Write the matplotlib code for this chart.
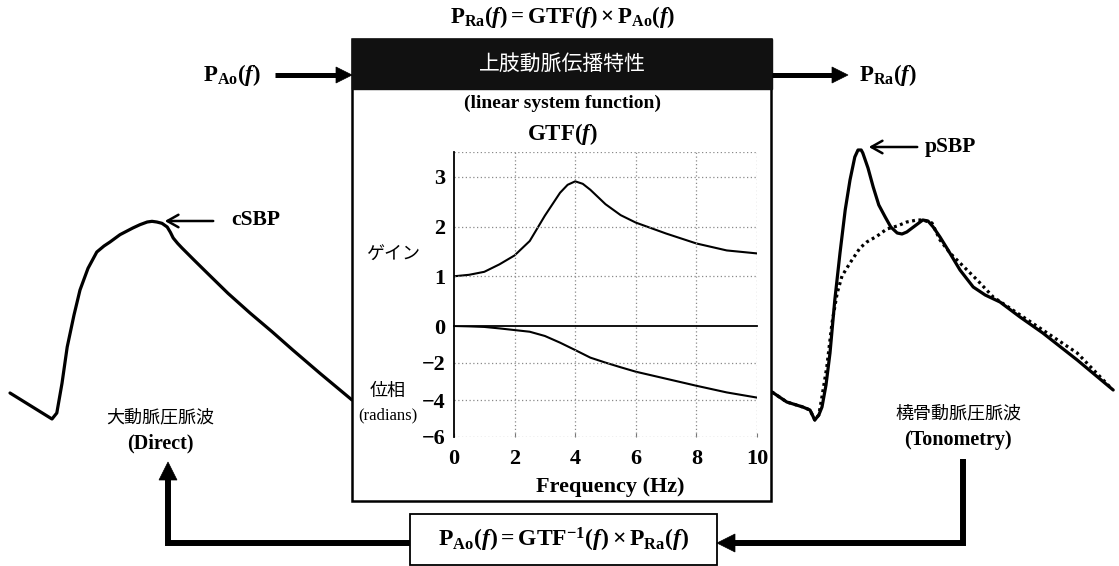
import matplotlib
matplotlib.use("Agg")
import matplotlib.pyplot as plt
from matplotlib.patches import Rectangle, Polygon
from matplotlib.lines import Line2D

# ---------------- data ----------------
freq = [0, 0.5, 1, 1.5, 2, 2.5, 3, 3.25, 3.5, 3.75, 4, 4.25, 4.5, 5, 5.5, 6, 7, 8, 9, 10]
gain = [1.0, 1.03, 1.09, 1.24, 1.42, 1.71, 2.22, 2.45, 2.68, 2.84, 2.91, 2.86, 2.74,
        2.45, 2.23, 2.08, 1.86, 1.66, 1.52, 1.46]
phase_f = [0, 0.5, 1, 1.5, 2, 2.5, 3, 3.5, 4, 4.5, 5, 5.5, 6, 7, 8, 9, 10]
phase = [0, -0.02, -0.05, -0.13, -0.22, -0.31, -0.54, -0.9, -1.3, -1.71, -1.98,
         -2.23, -2.47, -2.85, -3.23, -3.59, -3.87]
gain_ticks = [1, 2, 3]
phase_ticks = [-6, -4, -2, 0]
phase_ticklabels = ["−6", "−4", "−2", "0"]
freq_ticks = [0, 2, 4, 6, 8, 10]

# aortic pressure wave (time ms, pressure mmHg)
ao_t = [25, 130, 142, 155, 168, 185, 200, 220, 242, 260, 275, 300, 332, 350, 368,
        380, 392, 405, 418, 426, 433, 444, 455, 485, 518, 570, 625, 680, 732, 800, 880]
ao_p = [71.1, 63.3, 65.1, 74.0, 84.9, 94.5, 102.0, 108.5, 113.4, 115.2, 116.4, 118.6,
        120.6, 121.6, 122.4, 122.6, 122.4, 122.0, 120.9, 119.3, 117.6, 116.0, 114.6,
        111.0, 107.1, 101.0, 95.1, 89.5, 84.0, 77.0, 69.0]

# radial pressure wave, measured (solid) and reconstructed (dotted)
ra_t = [5, 42, 82, 100, 112, 122, 130, 140, 150, 162, 175, 188, 200, 212, 220, 228, 232,
        245, 258, 272, 288, 302, 318, 330, 342, 362, 382, 395, 408, 425, 442, 475, 508,
        538, 575, 625, 682, 768, 858]
ra_p = [71.4, 68.4, 66.9, 66.0, 63.0, 64.5, 66.9, 73.5, 83.1, 99.0, 113.1, 126.0, 135.0,
        141.9, 144.0, 144.0, 143.1, 138.6, 132.9, 127.5, 123.9, 120.9, 119.1, 118.8, 119.4,
        121.2, 123.0, 122.7, 120.9, 117.9, 114.6, 108.0, 102.9, 100.5, 98.4, 93.9, 89.1,
        81.0, 72.0]
rec_t = [5, 42, 82, 100, 112, 122, 130, 142, 155, 168, 180, 200, 225, 242, 268, 292,
         318, 342, 368, 382, 405, 425, 450, 475, 518, 558, 682, 768, 850]
rec_p = [71.4, 68.4, 66.9, 66.0, 63.0, 64.5, 70.0, 78.9, 92.1, 101.1, 106.2, 110.1,
         114.6, 116.4, 118.2, 120.3, 121.2, 122.4, 123.0, 123.0, 122.1, 117.0, 113.1,
         110.1, 105.0, 99.9, 90.0, 83.1, 72.9]

W, H = 1119, 566
plt.rcParams['font.family'] = ['Liberation Serif', 'Noto Sans CJK JP', 'DejaVu Sans']
plt.rcParams['mathtext.fontset'] = 'custom'
plt.rcParams['mathtext.rm'] = 'Liberation Serif:bold'
plt.rcParams['mathtext.bf'] = 'Liberation Serif:bold'
plt.rcParams['mathtext.it'] = 'Liberation Serif:bold:italic'
JP = ['Noto Sans CJK JP', 'DejaVu Sans']

fig = plt.figure(figsize=(W / 100, H / 100), dpi=100)
fig.patch.set_facecolor('white')


def px_axes(x0, y0, x1, y1, z):
    a = fig.add_axes([x0 / W, 1 - y1 / H, (x1 - x0) / W, (y1 - y0) / H])
    a.set_zorder(z)
    return a


def wave_axes(x0, y0, x1, y1):
    a = px_axes(x0, y0, x1, y1, 1)
    a.set_xlim(0, (x1 - x0) * 2.5)
    a.set_ylim(60 + (430 - y1) * 0.3, 60 + (430 - y0) * 0.3)
    a.axis('off')
    a.patch.set_alpha(0)
    return a


# waveforms (behind the box)
axL = wave_axes(0, 180, 400, 450)
axL.plot(ao_t, ao_p, color='black', lw=2.3, solid_joinstyle='round', solid_capstyle='round')
axR = wave_axes(770, 120, 1119, 450)
axR.plot(rec_t, rec_p, color='black', lw=2.3, linestyle=(0, (0.9, 1.1)))
axR.plot(ra_t, ra_p, color='black', lw=2.3, solid_joinstyle='round', solid_capstyle='round')

# overlay in pixel coordinates
ov = px_axes(0, 0, W, H, 2)
ov.set_xlim(0, W)
ov.set_ylim(H, 0)
ov.axis('off')
ov.patch.set_alpha(0)

# main box and header
ov.add_patch(Rectangle((352, 39), 419, 462, facecolor='white', edgecolor='black', lw=1.8))
ov.add_patch(Rectangle((352, 39), 420, 50, facecolor='#111111', edgecolor='#111111', lw=1))
ov.text(562, 64, '上肢動脈伝播特性', color='white', fontsize=15, ha='center', va='center',
        family=JP)

# top formula
ov.text(563, 17, r'$\mathrm{P}_{\mathrm{Ra}}(\mathit{f})=\mathrm{GTF}(\mathit{f})\times\mathrm{P}_{\mathrm{Ao}}(\mathit{f})$',
        fontsize=16.5, ha='center', va='center')
ov.text(232, 75, r'$\mathrm{P}_{\mathrm{Ao}}(\mathit{f})$', fontsize=16.5, ha='center', va='center')
ov.text(888, 75, r'$\mathrm{P}_{\mathrm{Ra}}(\mathit{f})$', fontsize=16.5, ha='center', va='center')


def thick_arrow(x0, y0, x1, y1, lw=3.6, hw=8, hl=16):
    import math
    dx, dy = x1 - x0, y1 - y0
    L = math.hypot(dx, dy)
    ux, uy = dx / L, dy / L
    bx, by = x1 - ux * hl, y1 - uy * hl
    ov.add_line(Line2D([x0, bx + ux * 2], [y0, by + uy * 2], color='black', lw=lw,
                       solid_capstyle='butt'))
    ov.add_patch(Polygon([(x1, y1), (bx - uy * hw, by + ux * hw), (bx + uy * hw, by - ux * hw)],
                         closed=True, facecolor='black', edgecolor='black', lw=0.5))


thick_arrow(275, 75, 352, 75)
thick_arrow(772, 75, 848, 75)

# inner texts
ov.text(562, 103, '(linear system function)', fontsize=14, fontweight='bold',
        ha='center', va='center')
ov.text(562, 134, r'$\mathrm{GTF}(\mathit{f})$', fontsize=16.5, ha='center', va='center')
ov.text(393, 255, 'ゲイン', fontsize=13, ha='center', va='center', family=JP)
ov.text(388, 391, '位相', fontsize=13, ha='center', va='center', family=JP)
ov.text(388, 415, '(radians)', fontsize=12, ha='center', va='center')
ov.text(610, 487, 'Frequency (Hz)', fontsize=16, fontweight='bold', ha='center', va='center')

# waveform labels
ov.text(160, 417, '大動脈圧脈波', fontsize=13, ha='center', va='center', family=JP)
ov.text(160, 443, '(Direct)', fontsize=14.5, fontweight='bold', ha='center', va='center')
ov.text(958, 413, '橈骨動脈圧脈波', fontsize=13, ha='center', va='center', family=JP)
ov.text(958, 440, '(Tonometry)', fontsize=14.5, fontweight='bold', ha='center', va='center')

# SBP annotations
ov.annotate('', xy=(162, 221), xytext=(216, 221),
            arrowprops=dict(arrowstyle='->,head_length=0.8,head_width=0.45', lw=1.8, color='black'))
ov.text(231, 220, 'cSBP', fontsize=15.5, fontweight='bold', ha='left', va='center')
ov.annotate('', xy=(866, 147), xytext=(920, 147),
            arrowprops=dict(arrowstyle='->,head_length=0.8,head_width=0.45', lw=1.8, color='black'))
ov.text(925, 147, 'pSBP', fontsize=15.5, fontweight='bold', ha='left', va='center')

# bottom box and loop arrows
ov.add_patch(Rectangle((410, 514), 307, 51, facecolor='white', edgecolor='black', lw=1.3))
ov.text(564, 540, r'$\mathrm{P}_{\mathrm{Ao}}(\mathit{f})=\mathrm{GTF}^{-1}(\mathit{f})\times\mathrm{P}_{\mathrm{Ra}}(\mathit{f})$',
        fontsize=17, ha='center', va='center')
ov.add_line(Line2D([963, 963, 733], [459, 543, 543], color='black', lw=4.3,
                   solid_joinstyle='miter', solid_capstyle='butt'))
ov.add_patch(Polygon([(717, 543), (735, 534), (735, 552)], closed=True, facecolor='black',
                     edgecolor='black', lw=0.5))
ov.add_line(Line2D([410, 168, 168], [543, 543, 478], color='black', lw=4.3,
                   solid_joinstyle='miter', solid_capstyle='butt'))
ov.add_patch(Polygon([(168, 462), (159, 480), (177, 480)], closed=True, facecolor='black',
                     edgecolor='black', lw=0.5))

# GTF plots
grid_kw = dict(color='#8a8a8a', lw=0.9, linestyle=(0, (1, 2)))
tick_font = dict(fontsize=16, fontweight='bold')

axg = px_axes(454, 152, 757, 326, 3)
axg.plot(freq, gain, color='black', lw=1.5)
axg.set_xlim(0, 10)
axg.set_ylim(0, 3.5)
axg.set_xticks(freq_ticks)
axg.set_yticks(gain_ticks)
axg.set_xticklabels([])
axg.set_yticklabels([str(v) for v in gain_ticks], **tick_font)
axg.tick_params(length=0, pad=6)
for v in freq_ticks[1:]:
    axg.axvline(v, **grid_kw)
for v in gain_ticks + [3.5]:
    axg.axhline(v, **grid_kw)
for s in ['top', 'right']:
    axg.spines[s].set_visible(False)
axg.spines['left'].set_linewidth(1.3)
axg.spines['bottom'].set_linewidth(1.3)

axp = px_axes(454, 326, 757, 437, 3)
axp.plot(phase_f, phase, color='black', lw=1.5)
axp.set_xlim(0, 10)
axp.set_ylim(-6, 0)
axp.set_xticks(freq_ticks)
axp.set_xticklabels([str(v) for v in freq_ticks], **tick_font)
axp.set_yticks(phase_ticks)
axp.set_yticklabels(phase_ticklabels, **tick_font)
axp.tick_params(axis='y', length=0, pad=6)
axp.tick_params(axis='x', length=3, direction='in', pad=9, color='#777777')
for v in freq_ticks[1:]:
    axp.axvline(v, **grid_kw)
for v in [-6, -4, -2]:
    axp.axhline(v, **grid_kw)
for s in ['top', 'right', 'bottom']:
    axp.spines[s].set_visible(False)
axp.spines['left'].set_linewidth(1.3)
axp.patch.set_alpha(0)

fig.savefig('out.png', dpi=100, facecolor='white')
